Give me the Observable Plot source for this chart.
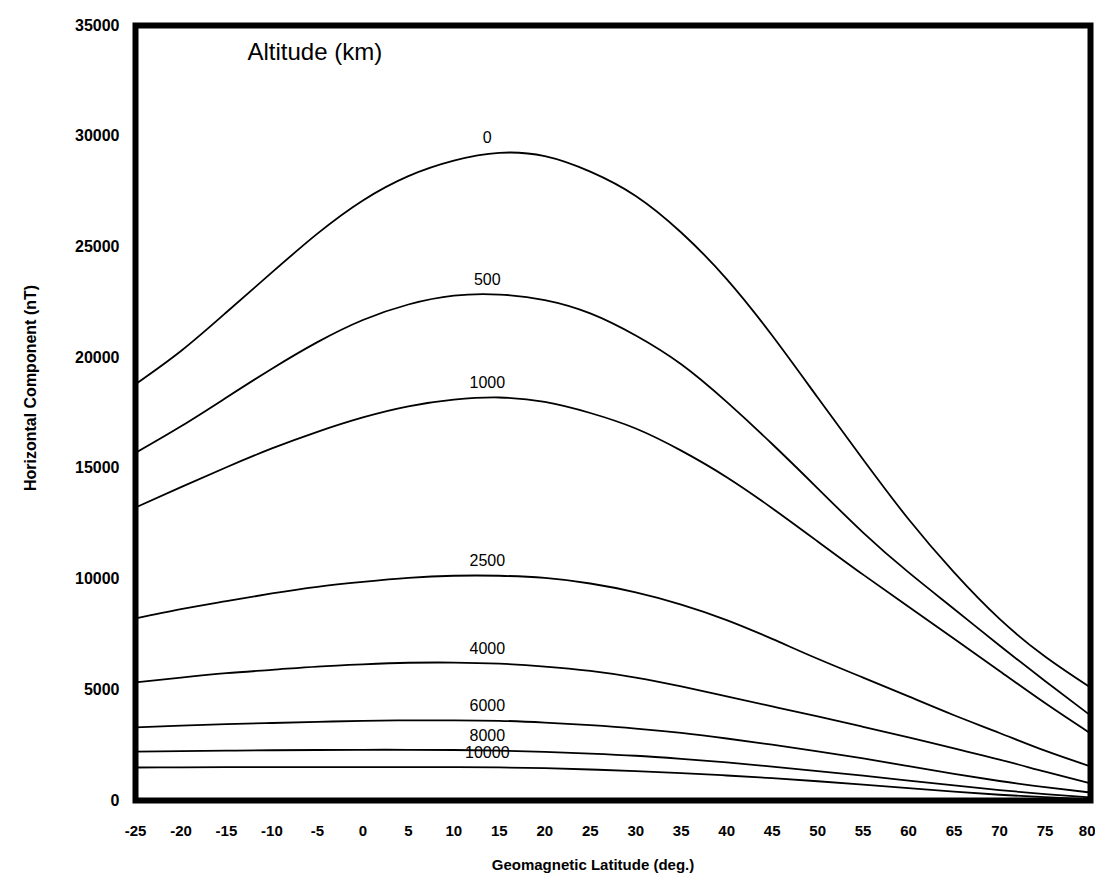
<!DOCTYPE html>
<html>
<head>
<meta charset="utf-8">
<script src="https://cdn.jsdelivr.net/npm/d3@7"></script>
<script src="https://cdn.jsdelivr.net/npm/@observablehq/plot@0.6"></script>
<style>
  html, body { margin: 0; padding: 0; background: #fff; }
  #chart svg { display: block; }
</style>
</head>
<body>
<div id="chart"></div>
<script>
// Geomagnetic latitude (deg.)
const latitudes = [-25,-20,-15,-10,-5,0,5,10,15,20,25,30,35,40,45,50,55,60,65,70,75,80];

// Horizontal component (nT) per altitude (km)
const alt0     = [18800,20300,22050,23850,25600,27100,28200,28900,29250,29100,28400,27300,25650,23550,21000,18200,15400,12700,10300,8200,6500,5100];
const alt500   = [15700,16900,18200,19500,20700,21700,22400,22800,22850,22600,22000,21000,19700,18000,16100,14100,12100,10300,8650,7000,5400,3840];
const alt1000  = [13230,14150,15050,15900,16650,17300,17800,18100,18200,18000,17500,16800,15800,14600,13200,11700,10200,8750,7300,5850,4400,3030];
const alt2500  = [8220,8640,9000,9350,9650,9870,10050,10150,10150,10050,9800,9400,8850,8150,7300,6400,5550,4700,3850,3050,2250,1540];
const alt4000  = [5330,5550,5750,5900,6050,6150,6220,6230,6180,6050,5850,5550,5150,4700,4250,3800,3330,2850,2350,1850,1300,770];
const alt6000  = [3300,3380,3450,3500,3550,3600,3620,3620,3600,3520,3400,3250,3050,2800,2520,2220,1900,1550,1200,880,600,360];
const alt8000  = [2210,2230,2250,2270,2280,2290,2290,2280,2250,2200,2120,2020,1880,1720,1530,1330,1120,900,680,470,290,140];
const alt10000 = [1490,1500,1505,1510,1510,1510,1510,1505,1495,1460,1400,1330,1240,1130,1010,870,720,560,400,260,150,60];

const altitudes = ["0","500","1000","2500","4000","6000","8000","10000"];
const seriesValues = [alt0, alt500, alt1000, alt2500, alt4000, alt6000, alt8000, alt10000];

// Tick labels
const xTicks = [-25,-20,-15,-10,-5,0,5,10,15,20,25,30,35,40,45,50,55,60,65,70,75,80];
const yTicks = [0,5000,10000,15000,20000,25000,30000,35000];

// Curve label latitude
const labelLat = 15;

const rows = [];
altitudes.forEach((a, i) => {
  latitudes.forEach((lat, j) => rows.push({altitude: a, lat, H: seriesValues[i][j]}));
});
const labelRows = altitudes.map((a, i) => ({
  altitude: a,
  lat: labelLat,
  H: seriesValues[i][latitudes.indexOf(labelLat)]
}));

const font = "'Liberation Sans', Arial, sans-serif";
const lastTick = xTicks[xTicks.length - 1];

const chart = Plot.plot({
  width: 1095,
  height: 892,
  marginLeft: 135,
  marginRight: 5,
  marginTop: 25,
  marginBottom: 92,
  style: {fontFamily: font, background: "#fff", color: "#000"},
  x: {domain: [-25, 80], label: null},
  y: {domain: [0, 35000], label: null},
  marks: [
    Plot.axisX({ticks: xTicks.slice(0, -1), tickSize: 0, tickPadding: 25, tickFormat: d => String(d),
      fontSize: 15, fontWeight: "bold", style: "letter-spacing:2px"}),
    Plot.axisX({ticks: [lastTick], tickSize: 0, tickPadding: 25, tickFormat: d => String(d), textAnchor: "end", dx: 5,
      fontSize: 15, fontWeight: "bold", style: "letter-spacing:2px"}),
    Plot.axisY({ticks: yTicks, tickSize: 0, tickPadding: 16, tickFormat: d => String(d),
      fontSize: 16, fontWeight: "bold", style: "letter-spacing:2px"}),
    Plot.line(rows, {x: "lat", y: "H", z: "altitude", stroke: "#000", strokeWidth: 1.8, curve: "natural"}),
    Plot.text(labelRows, {x: "lat", y: "H", text: "altitude", dy: -15, dx: -12, fontSize: 16, fill: "#000", style: "letter-spacing:1.5px"}),
    Plot.frame({stroke: "#000", strokeWidth: 6}),
    Plot.text(["Altitude (km)"], {frameAnchor: "top-left", dx: 112, dy: 27, textAnchor: "start", lineAnchor: "middle", fontSize: 24, fill: "#000"}),
    Plot.text(["Geomagnetic Latitude (deg.)"], {frameAnchor: "bottom", dx: -20, dy: 65, textAnchor: "middle", lineAnchor: "middle", fontSize: 15, fontWeight: "bold", fill: "#000", style: "letter-spacing:2.5px"}),
    Plot.text(["Horizontal Component (nT)"], {frameAnchor: "left", rotate: -90, dx: -105, dy: -25, textAnchor: "middle", lineAnchor: "middle", fontSize: 16, fontWeight: "bold", fill: "#000", style: "letter-spacing:2.5px"})
  ]
});
document.getElementById("chart").appendChild(chart);
</script>
</body>
</html>
